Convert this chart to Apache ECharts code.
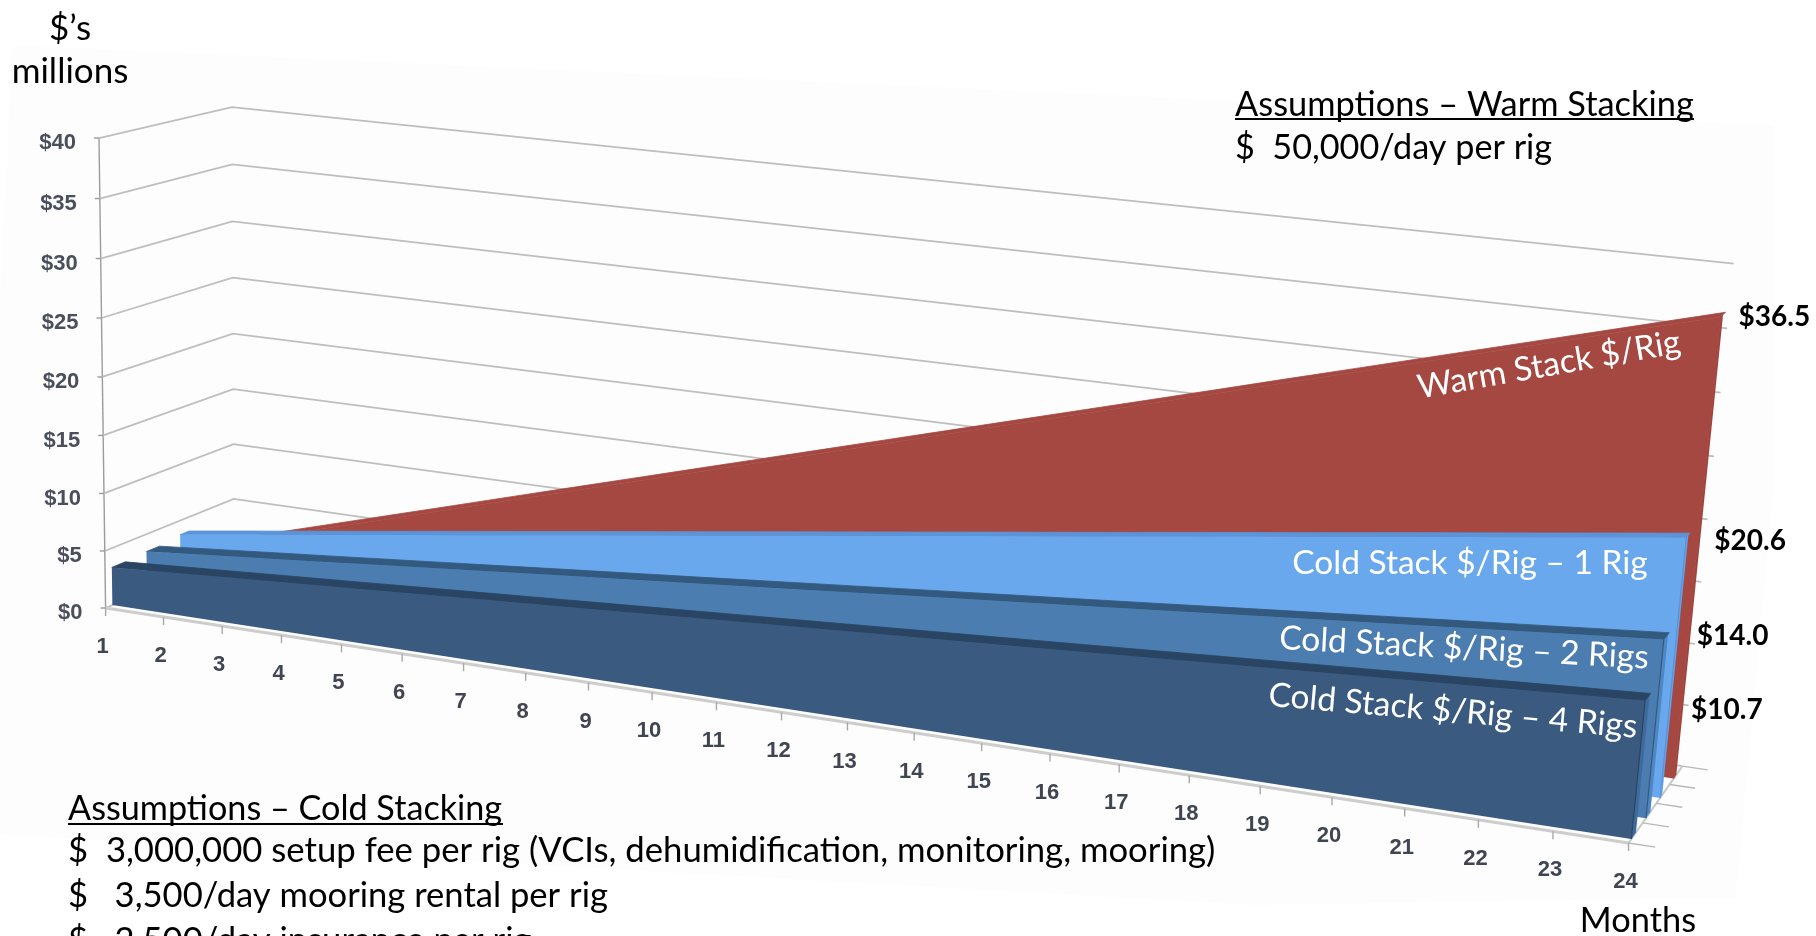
<!DOCTYPE html>
<html><head><meta charset="utf-8">
<style>html,body{margin:0;padding:0;background:#fff;overflow:hidden}#c{width:1816px;height:936px}</style>
<script src="https://cdn.jsdelivr.net/npm/echarts@6/dist/echarts.min.js"></script>
</head><body><div id="c"></div>
<script>
const months = [1,2,3,4,5,6,7,8,9,10,11,12,13,14,15,16,17,18,19,20,21,22,23,24];
const yTicks = [0,5,10,15,20,25,30,35,40];
const depthTicks = [0,0.25,0.5,0.75,1];
const warmStack = [1.52,3.04,4.56,6.08,7.60,9.13,10.65,12.17,13.69,15.21,16.73,18.25,19.77,21.29,22.81,24.33,25.85,27.38,28.90,30.42,31.94,33.46,34.98,36.50];
const coldOne   = [3.73,4.47,5.20,5.93,6.67,7.40,8.13,8.87,9.60,10.33,11.07,11.80,12.53,13.27,14.00,14.73,15.47,16.20,16.93,17.67,18.40,19.13,19.87,20.60];
const coldTwo   = [3.46,3.92,4.38,4.83,5.29,5.75,6.21,6.67,7.13,7.58,8.04,8.50,8.96,9.42,9.88,10.33,10.79,11.25,11.71,12.17,12.63,13.08,13.54,14.00];
const coldFour  = [3.32,3.64,3.96,4.28,4.60,4.93,5.25,5.57,5.89,6.21,6.53,6.85,7.17,7.49,7.81,8.13,8.45,8.78,9.10,9.42,9.74,10.06,10.38,10.70];

const W = 1816, H = 936;
const FONT = 'Lato';

// Camera calibration: (month share, value share, depth) -> screen
const calib = [
 [0,0,0,107,608],[0,1,0,98,138],[0,0,1,233,553],[0,1,1,233,107],
 [0,0.5,0,101,379],[0,0.5,1,233,334],
 [1,0,0,1624,847],[1,1,1,1731,268],[1,0,1,1683,767],
 [12/23,0,0,848,726],
 [1,10.7/40,0.05,1648,697],[1,0,0.05,1630,838],
 [1,14/40,0.31,1666,635],[1,20.6/40,0.57,1688,539],[1,36.5/40,0.83,1721,315],[1,36.5/40,0.83,1721,315],
 [0,3.32/40,0.05,113,567],[0,3.46/40,0.31,147,550],[0,3.73/40,0.57,179,533]
];
function solve(A,b){const n=b.length;const M=A.map((r,i)=>r.concat(b[i]));
 for(let i=0;i<n;i++){let p=i;for(let k=i+1;k<n;k++)if(Math.abs(M[k][i])>Math.abs(M[p][i]))p=k;
  [M[i],M[p]]=[M[p],M[i]];
  for(let k=i+1;k<n;k++){const f=M[k][i]/M[i][i];for(let j=i;j<=n;j++)M[k][j]-=f*M[i][j];}}
 const x=new Array(n);for(let i=n-1;i>=0;i--){let s=M[i][n];for(let j=i+1;j<n;j++)s-=M[i][j]*x[j];x[i]=s/M[i][i];}return x;}
const CAM=(function(){const rows=[],rhs=[];
 calib.forEach(([u,v,w,sx,sy])=>{const X=sx/1000,Y=sy/1000;
  rows.push([u,v,w,1,0,0,0,0,-X*u,-X*v,-X*w]);rhs.push(X);
  rows.push([0,0,0,0,u,v,w,1,-Y*u,-Y*v,-Y*w]);rhs.push(Y);});
 const n=11,A=[],b=[];
 for(let i=0;i<n;i++){A.push(new Array(n).fill(0));b.push(0);
  rows.forEach((r,k)=>{for(let j=0;j<n;j++)A[i][j]+=r[i]*r[j];b[i]+=r[i]*rhs[k];});}
 return solve(A,b);})();
function proj(api,x,y,w){const c=api.coord([x,y]);const u=c[0]/W,v=1-c[1]/H,p=CAM;
 const d=p[8]*u+p[9]*v+p[10]*w+1;
 return [1000*(p[0]*u+p[1]*v+p[2]*w+p[3])/d,1000*(p[4]*u+p[5]*v+p[6]*w+p[7])/d];}

const GRID='#bebebe', AXIS='#9c9c9c';
const TICKFONT='bold 22px "Liberation Sans"';
function line(points,color,width){return{type:'polyline',shape:{points},style:{stroke:color,lineWidth:width,fill:null}};}

function wallItem(params,api){
 const t=api.value(1),ch=[];
 const a=proj(api,1,t,0),b=proj(api,1,t,1),c=proj(api,24,t,1);
 ch.push(line([a,b,c],GRID,1.8));
 ch.push(line([[a[0]-5,a[1]],a],AXIS,1.4));
 ch.push({type:'text',style:{text:'$'+t,x:a[0]-23,y:a[1]+5,align:'right',verticalAlign:'middle',font:TICKFONT,fill:'#4a4f5c'}});
 if(t===0)ch.push(line([a,proj(api,1,40,0)],AXIS,1.4));
 return{type:'group',children:ch};
}
function monthItem(params,api){
 const m=api.value(0),ch=[];
 const a=proj(api,m,0,0);
 if(params.dataIndex===0){
  ch.push(line([a,proj(api,24,0,0)],'#cdcdcd',3));
  ch.push(line([proj(api,24,0,0),proj(api,24,0,1)],'#c8c8c8',2));
  depthTicks.forEach(z=>{ch.push(line([proj(api,24,0,z),proj(api,24.35,0,z)],'#b8b8b8',1.4));});
 }
 ch.push(line([a,[a[0],a[1]+8]],'#a8a8a8',1.4));
 ch.push({type:'text',style:{text:String(m),x:a[0]-3,y:a[1]+39,align:'center',verticalAlign:'middle',font:TICKFONT,fill:'#404552'}});
 return{type:'group',children:ch};
}
function solidItem(vals,w,thick,sideThick,front,top,side,lab){
 return function(params,api){
  if(params.dataIndex!==0)return null;
  const f=[],b=[];
  months.forEach((m,i)=>{f.push(proj(api,m,vals[i],w));b.push(proj(api,m,vals[i],w+thick));});
  const n=months.length;
  const fb0=proj(api,1,0,w),fb1=proj(api,24,0,w),bb1=proj(api,24,0,w+sideThick),bt1=proj(api,24,vals[n-1],w+sideThick);
  const ch=[];
  ch.push({type:'polygon',shape:{points:[fb1,bb1,bt1,f[n-1]]},style:{fill:side}});
  ch.push({type:'polygon',shape:{points:f.concat(b.slice().reverse())},style:{fill:top,stroke:top,lineWidth:0.8}});
  ch.push({type:'polygon',shape:{points:[fb0].concat(f,[fb1])},style:{fill:front}});
  ch.push(line([f[n-1],fb1],top,1.2));
  ch.push({type:'text',style:{text:'$'+vals[n-1].toFixed(1),x:f[n-1][0]+lab[0],y:f[n-1][1]+lab[1],align:'left',verticalAlign:'middle',font:'bold 28px '+FONT,fill:'#000'}});
  return{type:'group',children:ch};
 };
}
function cs(name,rows,fn,z){return{type:'custom',name,data:rows,renderItem:fn,encode:{x:0,y:1},clip:false,silent:true,z};}
function T(text,x,y,size,opt){opt=opt||{};return{type:'text',x,y,rotation:(opt.rot||0)*Math.PI/180,z:50,silent:true,
 style:{text,x:0,y:0,align:opt.align||'left',verticalAlign:'middle',font:(opt.bold?'bold ':'')+size+'px '+FONT,fill:opt.fill||'#000'}};}
function U(x1,x2,y){return{type:'line',z:50,silent:true,shape:{x1,y1:y,x2,y2:y},style:{stroke:'#000',lineWidth:2}};}

const chart=echarts.init(document.getElementById('c'),null,{renderer:'canvas',width:W,height:H});
chart.setOption({
 animation:false,backgroundColor:'#fff',
 grid:{left:0,right:0,top:0,bottom:0,containLabel:false},
 xAxis:{type:'value',min:1,max:24,show:false},
 yAxis:{type:'value',min:0,max:40,interval:5,show:false},
 graphic:[
  {type:'polygon',z:0,silent:true,shape:{points:[[12,45],[1774,125],[1774,480],[1736,898],[1250,905],[0,835],[0,300]]},style:{fill:'#fdfdfd'}},
  T('$’s',70,29,35,{align:'center'}),T('millions',70,72,35,{align:'center'}),
  T('Assumptions – Warm Stacking',1235,105,34.4),U(1235,1694,119),
  T('$  50,000/day per rig',1235,148,34.2),
  T('Assumptions – Cold Stacking',68,809,34.2),U(68,503,824),
  T('$  3,000,000 setup fee per rig (VCIs, dehumidification, monitoring, mooring)',68,851,34.7),
  T('$   3,500/day mooring rental per rig',68,896,34.6),
  T('$   2,500/day insurance per rig',68,941,34.6),
  T('Months',1638,921,34.4,{align:'center'}),
  T('Warm Stack $/Rig',1549,365,33.5,{align:'center',rot:10,fill:'#fff'}),
  T('Cold Stack $/Rig – 1 Rig',1470,563,33.5,{align:'center',fill:'#fff'}),
  T('Cold Stack $/Rig – 2 Rigs',1464,648,33.5,{align:'center',rot:-3,fill:'#fff'}),
  T('Cold Stack $/Rig – 4 Rigs',1453,711,33.5,{align:'center',rot:-5,fill:'#fff'})
 ],
 series:[
  cs('Walls',yTicks.map(t=>[1,t]),wallItem,2),
  cs('Months',months.map(m=>[m,0]),monthItem,3),
  cs('Warm Stack $/Rig',months.map((m,i)=>[m,warmStack[i]]),solidItem(warmStack,0.83,0.1,0.05,'#a54842','#a54842','#a2443e',[18,0]),4),
  cs('Cold Stack $/Rig – 1 Rig',months.map((m,i)=>[m,coldOne[i]]),solidItem(coldOne,0.57,0.07,0.04,'#6aa8ee','#5b94d8','#62a2ea',[28,4]),5),
  cs('Cold Stack $/Rig – 2 Rigs',months.map((m,i)=>[m,coldTwo[i]]),solidItem(coldTwo,0.31,0.1,0.08,'#4c7db0','#34597f','#4f87c4',[33,-3]),6),
  cs('Cold Stack $/Rig – 4 Rigs',months.map((m,i)=>[m,coldFour[i]]),solidItem(coldFour,0.05,0.1,0.08,'#3a5a80','#2a4563','#3f6a9c',[46,9]),7)
 ]
});
</script></body></html>
